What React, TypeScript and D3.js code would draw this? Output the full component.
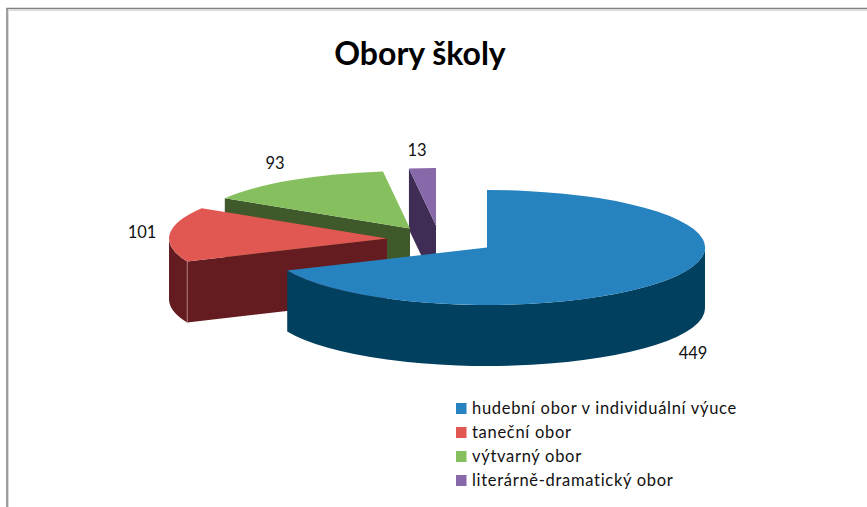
import React, { useRef, useEffect } from 'react';
import * as d3 from 'd3';

const title = 'Obory školy';
const categories = [
  'hudební obor v individuální výuce',
  'taneční obor',
  'výtvarný obor',
  'literárně-dramatický obor',
];
const values = [449, 101, 93, 13];
const topColors = ['#2683c0', '#e15751', '#86bf5e', '#8768a8'];
const sideColors = ['#024060', '#651c20', '#40592a', '#402d55'];

// apex of each exploded slice
const apexX = [487, 387, 410, 436];
const apexY = [247.5, 238.5, 228.5, 225.5];
const labelX = [693, 142, 275, 417];
const labelY = [353, 232, 163, 150];

const WIDTH = 867;
const HEIGHT = 507;
const RX = 218;
const RY = 57.5;
const DEPTH = 61;
const FONT = 'Lato, Carlito, sans-serif';

const App = () => {
  const svgRef = useRef<SVGSVGElement>(null);

  useEffect(() => {
    const svg = d3.select(svgRef.current).attr('width', WIDTH).attr('height', HEIGHT).html('');

    svg.append('rect').attr('width', WIDTH).attr('height', HEIGHT).attr('fill', '#fff');

    // frame, only top and left are in view
    svg.append('path').attr('d', `M7.5,${HEIGHT}V9.5H${WIDTH}`).attr('fill', 'none').attr('stroke', '#d9d9d9').attr('stroke-width', 1).attr('transform', 'translate(1,1)');
    svg.append('path').attr('d', `M7,${HEIGHT}V8.5H${WIDTH}`).attr('fill', 'none').attr('stroke', '#7f7f7f').attr('stroke-width', 1.5);

    svg.append('text')
      .attr('x', 420)
      .attr('y', 65)
      .attr('text-anchor', 'middle')
      .style('font', `700 32px ${FONT}`)
      .style('fill', '#000')
      .text(title);

    const pie = d3.pie<number>().sort(null);
    const slices = pie(values);
    const arc = d3.arc<d3.PieArcDatum<number>>().innerRadius(0).outerRadius(1);

    // unit circle squashed into the tilted ellipse
    const px = (a: number) => RX * Math.sin(a);
    const py = (a: number) => -RY * Math.cos(a);

    // back to front so the big slice covers the others
    const order = [3, 2, 1, 0];
    order.forEach((i) => {
      const d = slices[i];
      const g = svg.append('g').attr('transform', `translate(${apexX[i]},${apexY[i]})`);

      // cut face along the starting radius
      const face = d3.path();
      face.moveTo(0, 0);
      face.lineTo(px(d.startAngle), py(d.startAngle));
      face.lineTo(px(d.startAngle), py(d.startAngle) + DEPTH);
      face.lineTo(0, DEPTH);
      face.closePath();
      g.append('path').attr('d', face.toString()).attr('fill', sideColors[i]);

      // outer wall, only the part facing the viewer
      const a0 = Math.max(d.startAngle, Math.PI / 2);
      const a1 = Math.min(d.endAngle, (3 * Math.PI) / 2);
      if (a1 > a0) {
        const wall = [
          `M${px(a0)},${py(a0)}`,
          `A${RX},${RY} 0 0 1 ${px(a1)},${py(a1)}`,
          `V${py(a1) + DEPTH}`,
          `A${RX},${RY} 0 0 0 ${px(a0)},${py(a0) + DEPTH}`,
          'Z',
        ].join('');
        g.append('path').attr('d', wall).attr('fill', sideColors[i]);
      }

      // light seam where the red cut meets its wall
      if (i === 1) {
        g.append('line')
          .attr('x1', px(d.startAngle))
          .attr('x2', px(d.startAngle))
          .attr('y1', py(d.startAngle))
          .attr('y2', py(d.startAngle) + DEPTH)
          .attr('stroke', '#a5787a')
          .attr('stroke-width', 1);
      }

      g.append('path')
        .attr('d', arc(d))
        .attr('transform', `scale(${RX},${RY})`)
        .attr('fill', topColors[i]);
    });

    // data labels
    svg.append('g')
      .selectAll('text')
      .data(values)
      .join('text')
      .attr('x', (_, i) => labelX[i])
      .attr('y', (_, i) => labelY[i])
      .attr('dy', '0.36em')
      .attr('text-anchor', 'middle')
      .style('font', `400 16.5px ${FONT}`)
      .style('fill', '#111')
      .text((d) => d);

    // legend
    const rowY = d3.scaleLinear().domain([0, 3]).range([408.5, 480.5]);
    const color = d3.scaleOrdinal<string, string>().domain(categories).range(topColors);
    const legend = svg.append('g')
      .selectAll('g')
      .data(categories)
      .join('g')
      .attr('transform', (_, i) => `translate(456,${rowY(i)})`);
    legend.append('rect')
      .attr('y', -5.5)
      .attr('width', 10.5)
      .attr('height', 11)
      .attr('fill', (d) => color(d));
    legend.append('text')
      .attr('x', 16)
      .attr('dy', '0.36em')
      .style('font', `400 16.5px ${FONT}`)
      .style('letter-spacing', '0.7px')
      .style('fill', '#111')
      .text((d) => d);
  }, []);

  return <svg ref={svgRef} style={{ position: 'fixed', left: 0, top: 0, display: 'block' }}></svg>;
};

export default App;
